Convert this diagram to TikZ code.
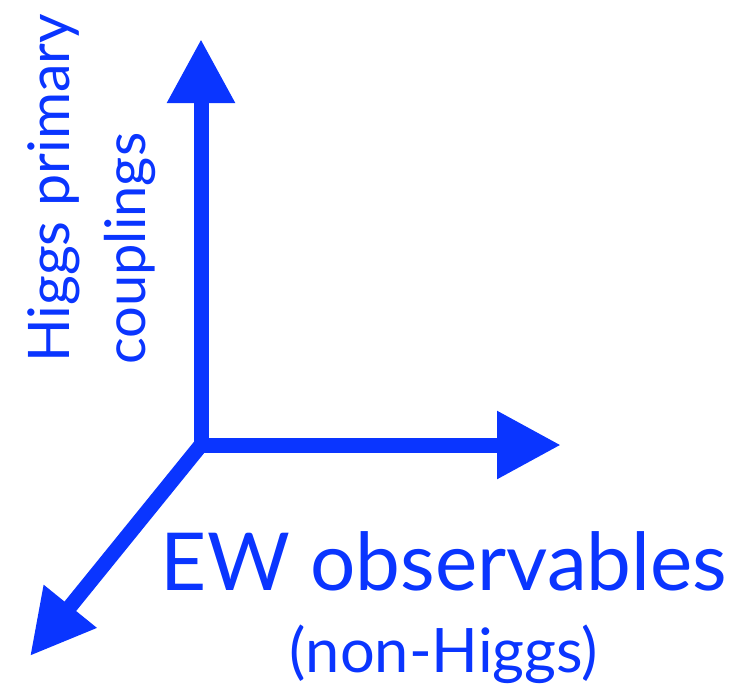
\documentclass[tikz,border=0pt]{standalone}
\usepackage{fontspec}
\setmainfont{Lato}
\usepackage{xcolor}
\usepackage{tikz}
\usetikzlibrary{arrows.meta,positioning,calc}
\definecolor{axisBlue}{HTML}{0A35FF}

\begin{document}
\begin{tikzpicture}[x=0.75pt, y=-0.75pt, >={Triangle[length=48pt, width=48pt]},
                axisline/.style={draw=axisBlue, line width=11.25pt, line join=miter},
                axislabel/.style={text=axisBlue, inner sep=0pt}]
                \useasboundingbox (0,0) rectangle (755,686);
                \coordinate (origin) at (201,445);
                \coordinate (higgsTip) at (201,39);
                \coordinate (ewTip) at (561,445);
                \coordinate (otherTip) at (30,656);
                \draw[axisline, <->] (higgsTip) -- (origin) -- (ewTip);
                \draw[axisline, ->] (origin) -- (otherTip);
                \node[axislabel, font=\fontsize{43}{48}\selectfont, rotate=90, anchor=base west] (higgsLabel) at (69,363) {Higgs primary};
                \node[axislabel, font=\fontsize{42}{48}\selectfont, rotate=90, anchor=base west] (couplingsLabel) at (145,365) {couplings};
                \node[axislabel, font=\fontsize{60}{66}\selectfont, anchor=base] (ewLabel) at (444,590) {EW observables};
                \node[axislabel, font=\fontsize{46}{52}\selectfont, anchor=base] (nonHiggsLabel) at (444,672) {(non-Higgs)};
            \end{tikzpicture}
\end{document}
